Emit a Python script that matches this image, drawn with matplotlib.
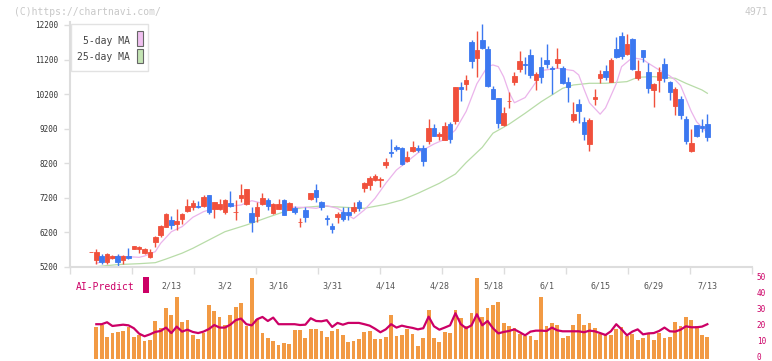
import numpy as np
import matplotlib.pyplot as plt
from matplotlib.patches import Rectangle
from matplotlib.transforms import ScaledTranslation

# candles, oldest first (the first one is the small doji at the left edge)
opens = [5634, 5412, 5528, 5335, 5470, 5528, 5393, 5518, 5730, 5711, 5614, 5489, 5933, 6125, 6366, 6559,
         6453, 6588, 6820, 6935, 6965, 6965, 7283, 6868, 6868, 6801, 7051, 6780, 7196, 7023, 6772, 6685,
         7023, 7138, 6753, 6888, 7138, 6859, 6916, 6492, 6848, 7157, 7427, 7070, 6607, 6386, 6636, 6781,
         6791, 6829, 7070, 7485, 7581, 7716, 7707, 8150, 8526, 8671, 8651, 8266, 8555, 8632, 8651, 8854,
         9211, 8989, 8883, 9336, 9423, 10416, 10493, 11718, 11255, 11766, 11506, 10348, 10079, 9317, 9992,
         10561, 10927, 11072, 11332, 10619, 10985, 11188, 10956, 11110, 10956, 10551, 9452, 9915, 9394,
         8748, 10069, 10677, 10869, 10561, 11506, 11882, 11371, 11795, 10677, 11477, 10840, 10329, 10619,
         11072, 10551, 9847, 10060, 9481, 8565, 9307, 9278, 9336]
highs = [5634, 5720, 5566, 5614, 5550, 5585, 5547, 5749, 5820, 5817, 5759, 5720, 6106, 6415, 6752, 6675,
         6878, 6771, 7167, 7130, 7109, 7283, 7283, 7090, 7167, 7167, 7399, 7138, 7601, 7465, 6936, 7090,
         7341, 7196, 7060, 7167, 7167, 7080, 6964, 6617, 6945, 7330, 7600, 7118, 6704, 6463, 6800, 6926,
         6926, 7070, 7138, 7668, 7832, 7880, 7813, 8362, 8902, 8738, 8660, 8555, 8835, 8729, 8729, 9481,
         9346, 9114, 9404, 9394, 10420, 10561, 10753, 11766, 12026, 12229, 11592, 10445, 10098, 9828, 10252,
         10831, 11448, 11274, 11506, 10840, 11274, 11650, 11024, 11535, 11014, 10696, 9963, 10060, 9539,
         9500, 10339, 10889, 11043, 11245, 11853, 11998, 11940, 11824, 11188, 11477, 11110, 10532, 10985,
         11245, 10580, 10407, 10156, 9577, 9192, 9307, 9481, 9626]
lows = [5634, 5277, 5296, 5296, 5440, 5209, 5296, 5440, 5710, 5614, 5566, 5450, 5788, 6077, 6347, 6299,
        6270, 6434, 6800, 6850, 6916, 6945, 6743, 6627, 6839, 6743, 6945, 6560, 7080, 7003, 6222, 6512,
        6984, 6849, 6743, 6868, 6695, 6839, 6733, 6366, 6511, 7138, 7089, 6848, 6424, 6193, 6463, 6540,
        6559, 6771, 6829, 7379, 7427, 7678, 7523, 8073, 8391, 8565, 8160, 8247, 8536, 8536, 8131, 8758,
        8979, 8883, 8864, 8796, 9326, 10001, 10320, 10966, 10705, 11496, 10406, 10059, 9230, 9288, 9809,
        10464, 10831, 10773, 10677, 10329, 10532, 10947, 10214, 10966, 10503, 9982, 9404, 9356, 8883,
        8565, 9886, 10513, 10609, 10542, 11236, 11226, 11332, 10898, 10609, 11139, 10243, 9838, 10272,
        10542, 10040, 9606, 9471, 8748, 8536, 8970, 9115, 8845]
closes = [5634, 5634, 5335, 5576, 5518, 5354, 5508, 5470, 5807, 5769, 5711, 5643, 6068, 6386, 6733, 6415,
          6530, 6733, 6964, 7051, 6945, 7225, 6801, 7080, 7032, 7148, 6974, 6800, 7292, 7456, 6502, 6936,
          7196, 6974, 7023, 7023, 6714, 7051, 6800, 6511, 6656, 7330, 7215, 6945, 6588, 6289, 6733, 6578,
          6704, 6935, 6906, 7629, 7774, 7832, 7755, 8246, 8507, 8613, 8185, 8382, 8671, 8574, 8275, 9230,
          8999, 9056, 9278, 8893, 10416, 10339, 10609, 11168, 11486, 11525, 10435, 10069, 9375, 9654, 10011,
          10725, 11159, 11053, 10754, 10783, 10696, 11072, 10918, 11217, 10532, 10416, 9626, 9722, 9057,
          9452, 10108, 10773, 10696, 11188, 11265, 11313, 11650, 10918, 10869, 11284, 10387, 10493, 10840,
          10677, 10272, 10349, 9606, 8854, 8796, 8999, 9221, 8970]

# lower panel (scaled 0-50)
volume = [19.6, 20.6, 13.3, 15.6, 16.5, 17.1, 19.8, 13.3, 14.4, 10.8, 11.5, 23.1, 19.0, 31.5, 26.9,
          38.1, 22.5, 23.8, 14.6, 11.9, 16.0, 33.1, 29.4, 25.6, 20.6, 26.9, 31.9, 34.4, 20.2, 50.0,
          24.4, 15.6, 12.5, 10.6, 8.3, 9.8, 8.8, 17.5, 17.5, 12.7, 18.1, 18.1, 16.9, 13.3, 17.1,
          18.1, 14.8, 10.2, 10.8, 11.9, 16.3, 16.9, 11.9, 11.9, 13.3, 26.9, 14.0, 14.4, 18.5, 15.2,
          7.5, 12.5, 30.0, 12.5, 10.0, 16.3, 15.6, 30.0, 25.0, 20.0, 28.1, 50.0, 25.6, 31.3, 33.1,
          35.0, 21.9, 20.0, 18.8, 15.0, 13.8, 13.8, 11.3, 38.1, 20.0, 21.9, 20.6, 12.5, 13.8, 20.6,
          27.5, 20.6, 21.9, 18.8, 15.0, 14.6, 14.6, 18.1, 19.4, 13.8, 15.0, 11.3, 12.5, 15.0, 11.3,
          15.6, 12.5, 13.3, 22.5, 20.0, 25.6, 23.8, 20.0, 14.6, 13.3]
ai_predict = [21.3, 21.3, 22.5, 20.2, 20.6, 21.0, 20.6, 18.8, 15.4, 13.8, 15.0, 16.5, 17.1, 19.2, 15.8,
              19.8, 16.7, 17.9, 16.5, 15.8, 16.7, 18.3, 20.8, 19.2, 19.2, 21.0, 23.8, 24.8, 21.3, 20.6,
              24.4, 25.8, 23.3, 25.4, 21.3, 21.3, 21.3, 21.3, 20.8, 21.0, 25.0, 23.3, 23.1, 23.8, 19.6,
              22.1, 21.0, 22.1, 22.1, 22.1, 21.3, 20.4, 18.5, 16.3, 18.1, 21.3, 19.2, 20.4, 19.6, 19.0,
              18.1, 18.8, 26.0, 20.0, 17.9, 19.2, 20.6, 28.1, 21.3, 18.8, 20.6, 27.5, 20.6, 23.3, 18.8,
              15.6, 16.5, 17.1, 18.1, 16.3, 14.4, 16.7, 17.3, 17.3, 17.1, 19.2, 17.5, 16.9, 16.9, 16.9,
              16.9, 16.3, 17.3, 16.9, 15.8, 14.6, 16.9, 21.3, 18.1, 14.4, 16.7, 18.1, 15.0, 15.6, 15.8,
              17.1, 19.2, 16.9, 16.7, 17.9, 20.0, 19.4, 19.4, 19.8, 21.3]

# moving averages (bar index, price)
ma5_idx = [0, 2, 4, 6, 8, 9, 11, 12, 14, 16, 18, 20, 22, 24, 27, 29, 31, 34, 37, 39, 41, 43, 45, 48, 50,
           52, 54, 56, 58, 60, 63, 65, 67, 69, 71, 73, 74, 75, 76, 77, 78, 80, 82, 83, 86, 89, 90, 91, 92,
           94, 95, 96, 97, 98, 100, 102, 103, 105, 107, 108, 109, 111, 112, 114]
ma5 = [5306, 5402, 5510, 5498, 5480, 5518, 5643, 5885, 6221, 6366, 6637, 6800, 6897, 6945, 6993, 7118,
       7042, 6964, 6926, 6926, 6897, 6974, 6897, 6598, 6849, 7187, 7621, 8006, 8250, 8500, 8758, 8893,
       9163, 9700, 10500, 11000, 11043, 10994, 10700, 10250, 9950, 10100, 10542, 10880, 10947, 10880,
       10754, 10340, 9950, 9620, 9800, 10150, 10500, 10994, 11254, 11200, 11092, 10899, 10725, 10609,
       10450, 9700, 9400, 9080]
ma25_idx = [0, 4, 8, 11, 13, 16, 18, 21, 24, 28, 32, 36, 39, 42, 44, 50, 54, 57, 60, 64, 67, 69, 72, 74,
            77, 80, 83, 87, 89, 92, 95, 99, 101, 104, 108, 110, 113, 114]
ma25 = [5210, 5270, 5296, 5325, 5430, 5600, 5740, 5981, 6221, 6415, 6637, 6849, 6926, 6964, 6945, 6897,
        7013, 7138, 7331, 7621, 7890, 8220, 8660, 9070, 9330, 9646, 9980, 10368, 10464, 10513, 10513,
        10561, 10687, 10705, 10658, 10513, 10320, 10224]

date_labels = ['2/13', '3/2', '3/16', '3/31', '4/14', '4/28', '5/18', '6/1', '6/15', '6/29', '7/13']
date_idx = [14, 24, 34, 44, 54, 64, 74, 84, 94, 104, 114]
price_ticks = [5200, 6200, 7200, 8200, 9200, 10200, 11200, 12200]
ai_ticks = [0, 10, 20, 30, 40, 50]

plt.rcParams['font.family'] = 'DejaVu Sans Mono'

W, H = 772, 361
fig = plt.figure(figsize=(W / 100, H / 100), dpi=100)


def fx(px):
    return px / W


def fy(py):
    return 1 - py / H


RED = '#f0503c'
BLUE = '#3c78f0'
CRIMSON = '#cc0066'
x0, x1 = -4.91, 122.33

# main price panel
ax = fig.add_axes([fx(70), fy(267), fx(752) - fx(70), fy(21.5) - fy(267)])
cx = np.arange(len(opens)) - 1
o = np.array(opens)
c = np.array(closes)
cols = [RED if cc >= oo else BLUE for oo, cc in zip(o, c)]
ax.plot(ma25_idx, ma25, color='#b8dca8', lw=0.9, zorder=1)
ax.plot(ma5_idx, ma5, color='#ebb4eb', lw=0.9, zorder=1)
ax.vlines(cx, lows, highs, colors=cols, lw=1, zorder=2)
ax.bar(cx, np.abs(c - o), bottom=np.minimum(o, c), width=0.85, color=cols,
       edgecolor=cols, lw=0.6, zorder=3)

ax.set_xlim(x0, x1)
ax.set_ylim(5200, 12300)
ax.set_yticks(price_ticks)
ax.set_yticklabels([str(t) for t in price_ticks], fontsize=5.5, color='#333333')
ax.set_xticks(np.linspace(x0, x1, 12))
ax.set_xticklabels([])
ax.tick_params(axis='y', length=4.5, width=1, color='#dddddd', pad=4)
ax.tick_params(axis='x', length=5, width=1, color='#dddddd')
for s in ['top', 'right']:
    ax.spines[s].set_visible(False)
for s in ['left', 'bottom']:
    ax.spines[s].set_color('#dddddd')
    ax.spines[s].set_linewidth(1.5)

# lower panel: volume + AI-Predict
ax2 = fig.add_axes([fx(70), fy(358.5), fx(752) - fx(70), fy(278) - fy(358.5)])
vx = np.arange(len(volume))
ax2.bar(vx, volume, width=0.7, color='#f29a44', zorder=1)
ax2.plot(vx, ai_predict, color=CRIMSON, lw=1.6, zorder=2)
ax2.set_xlim(x0, x1)
ax2.set_ylim(0, 50)
ax2.yaxis.tick_right()
ax2.set_yticks(ai_ticks)
ax2.set_yticklabels([str(t) for t in ai_ticks], fontsize=5.5, color=CRIMSON)
ax2.tick_params(axis='y', length=0, pad=3.5)
lift = ScaledTranslation(0, 1.5 / 100, fig.dpi_scale_trans)
for lab in ax2.get_yticklabels():
    lab.set_transform(lab.get_transform() + lift)
ax2.set_xticks([])
for s in ax2.spines.values():
    s.set_visible(False)
for lab, i in zip(date_labels, date_idx):
    ax2.text(i, 0.905, lab, transform=ax2.get_xaxis_transform(), ha='center', va='center',
             fontsize=6, color='#555555')

# legend box
fig.patches.append(Rectangle((fx(71), fy(71)), fx(148) - fx(71), fy(24) - fy(71),
                             transform=fig.transFigure, facecolor='white', edgecolor='#e2e2e2',
                             lw=1, zorder=5))
fig.patches.append(Rectangle((fx(137), fy(46)), fx(142.5) - fx(137), fy(31.5) - fy(46),
                             transform=fig.transFigure, facecolor='#f0c0f0', edgecolor='#666666',
                             lw=0.8, zorder=6))
fig.patches.append(Rectangle((fx(137), fy(63)), fx(142.5) - fx(137), fy(49) - fy(63),
                             transform=fig.transFigure, facecolor='#c4e4b4', edgecolor='#666666',
                             lw=0.8, zorder=6))
fig.text(fx(130), fy(41), '5-day MA', ha='right', va='center', fontsize=7, color='#444444', zorder=6)
fig.text(fx(130), fy(57.5), '25-day MA', ha='right', va='center', fontsize=7, color='#444444', zorder=6)

# header texts
fig.text(fx(14), fy(12), '(C)https://chartnavi.com/', ha='left', va='center', fontsize=7, color='#c8c8c8')
fig.text(fx(768), fy(12), '4971', ha='right', va='center', fontsize=7, color='#c8c8c8')

# AI-Predict label
fig.text(fx(76), fy(286.5), 'AI-Predict', ha='left', va='center', fontsize=7, color=CRIMSON)
fig.patches.append(Rectangle((fx(142.5), fy(293)), fx(149) - fx(142.5), fy(277) - fy(293),
                             transform=fig.transFigure, facecolor=CRIMSON, edgecolor='none'))

fig.savefig('out.png', dpi=100)
